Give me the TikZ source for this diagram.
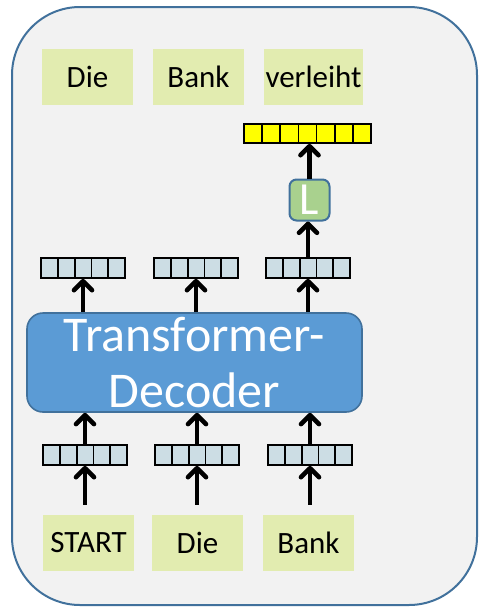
\documentclass[tikz,border=0pt]{standalone}
\usepackage{fontspec}
\setmainfont{Carlito}
\usetikzlibrary{arrows.meta,calc}
\definecolor{bgc}{HTML}{F2F2F2}
\definecolor{framec}{HTML}{41719C}
\definecolor{wordc}{HTML}{E2ECB0}
\definecolor{vecc}{HTML}{CCDDE4}
\definecolor{decc}{HTML}{5B9BD5}
\definecolor{lc}{HTML}{A9D18E}
\definecolor{yelc}{HTML}{FFFF00}
\begin{document}
\begin{tikzpicture}[x=1pt,y=-1pt,
  word/.style={fill=wordc, minimum width=91pt, minimum height=56pt, inner sep=0pt,
    font=\fontsize{31}{36}\selectfont},
  cells/.style={draw=black, line width=1.8pt, minimum height=20pt, inner sep=0pt,
    path picture={\foreach \k in {1,...,#1}{\pgfmathsetmacro\fr{\k/(#1+1)}
      \draw[line width=1.8pt] ($(path picture bounding box.north west)!\fr!(path picture bounding box.north east)$) --
        ($(path picture bounding box.south west)!\fr!(path picture bounding box.south east)$);}}},
  vec/.style={cells=4, fill=vecc, minimum width=84pt},
  outvec/.style={cells=6, fill=yelc, minimum width=127pt, minimum height=19pt},
  arr/.style={line width=4.6pt, -{Straight Barb[length=9pt, width=18pt, line cap=round, line join=round]}}
]
\useasboundingbox (0,0) rectangle (479,608);
\node[draw=framec, line width=2pt, fill=bgc, rounded corners=68pt, minimum width=465pt, minimum height=598pt, inner sep=0pt] (frame) at (244.5,306) {};

% top words
\node[word] (o1) at (87.5,77) {Die};
\node[word] (o2) at (198.5,77) {Bank};
\node[word, minimum width=99pt] (o3) at (313.5,77) {verleiht};

% output vector and L
\node[outvec] (y) at (307.5,133.5) {};
\node[draw=framec, line width=2pt, fill=lc, rounded corners=7pt, minimum width=40pt, minimum height=41pt, inner sep=0pt,
  text=white, font=\fontsize{46}{50}\selectfont] (L) at (309.5,200) {L};

% top vectors
\node[vec] (t1) at (83,268) {};
\node[vec] (t2) at (196,268) {};
\node[vec] (t3) at (308,268) {};

% decoder
\node[draw=framec, line width=1.6pt, fill=decc, rounded corners=16pt, minimum width=335pt, minimum height=99pt, inner sep=0pt,
  text=white, align=center, font=\fontsize{50}{56}\selectfont] (dec) at (194.5,362.5) {Transformer-\\Decoder};

% bottom vectors
\node[vec] (b1) at (85,455) {};
\node[vec] (b2) at (197,455) {};
\node[vec] (b3) at (310,455) {};

% bottom words
\node[word] (i1) at (88.5,543) {START};
\node[word] (i2) at (197.5,543) {Die};
\node[word] (i3) at (308.5,543) {Bank};

% arrows
\foreach \n in {1,2,3}{
  \draw[arr, shorten <=10pt] (b\n.south |- i\n.north) -- (b\n.south);
  \draw[arr] (b\n.north) -- (b\n.north |- dec.south);
  \draw[arr] (t\n.south |- dec.north) -- (t\n.south);
}
\draw[arr] (t3.north) -- (t3.north |- L.south);
\draw[arr] (L.north) -- (L.north |- y.south);
\end{tikzpicture}
\end{document}
